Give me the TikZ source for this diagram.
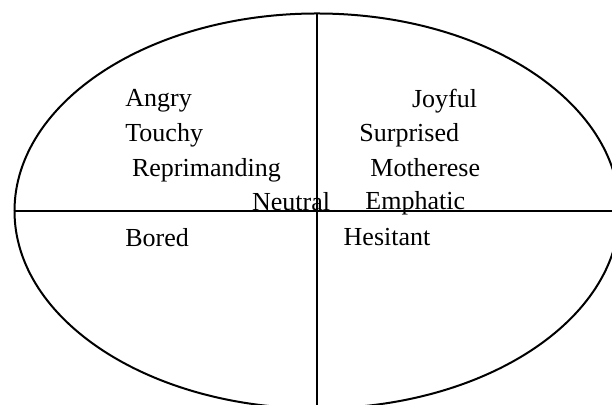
\documentclass[tikz,border=0pt]{standalone}
\usepackage{fontspec}
\setmainfont{Liberation Serif}
\usetikzlibrary{positioning}

\tikzset{
  axis/.style={line width=1pt,black},
  emo/.style={anchor=base west,inner sep=0pt,font=\fontsize{13}{15}\selectfont}
}

\begin{document}
\begin{tikzpicture}[x=0.5pt,y=0.5pt]
\useasboundingbox (0,0) rectangle (612,405);
\clip (0,0) rectangle (612,405);
\coordinate (c) at (317,194);
\draw[axis] (c) ellipse [x radius=302.5,y radius=197.5];
\coordinate (w) at (14.5,194);
\coordinate (e) at (620,194);
\coordinate (n) at (317,391.5);
\coordinate (s) at (317,-5);
\draw[axis] (w)--(e);
\draw[axis] (n)--(s);
% emotion labels
\foreach \n/\t/\x/\y in {angry/Angry/125/298.3,touchy/Touchy/125/263.3,
  repr/Reprimanding/131.7/228.3,neutral/Neutral/251.7/194.3,bored/Bored/125/158.3,
  joyful/Joyful/411.7/297.3,surpr/Surprised/359/263.3,moth/Motherese/370/228.3,
  emph/Emphatic/365/195,hesit/Hesitant/343.3/159.3}{
  \node[emo] (\n) at (\x,\y) {\t};
}
\end{tikzpicture}
\end{document}
